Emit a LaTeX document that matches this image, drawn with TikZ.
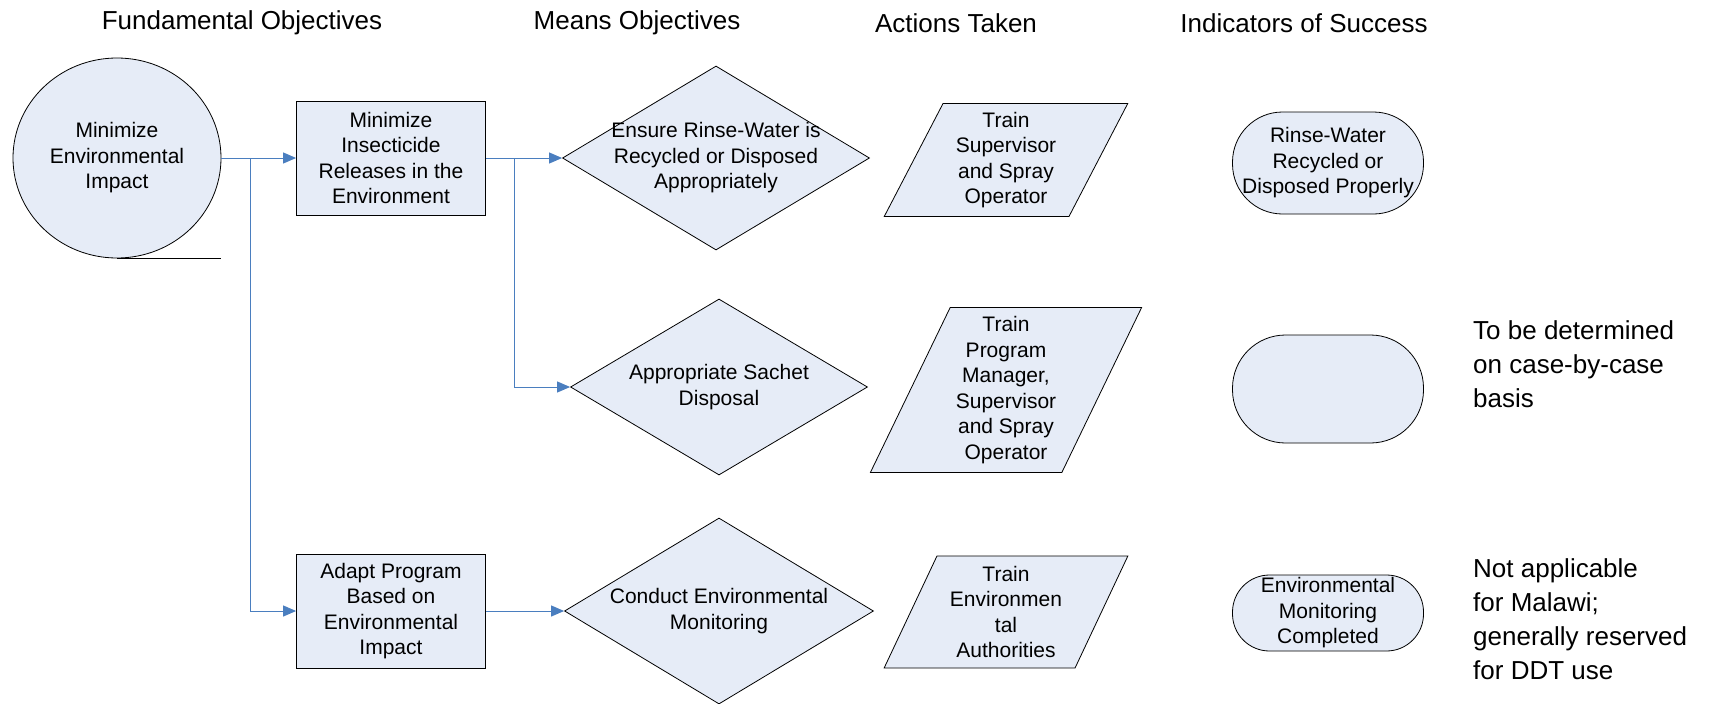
\documentclass[tikz,border=0pt]{standalone}
\usepackage{fontspec}
\setmainfont{Liberation Sans}
\usepackage{tikz}
\usetikzlibrary{arrows.meta}
\usetikzlibrary{shapes.geometric}
\usetikzlibrary{positioning}

\definecolor{shapefill}{RGB}{230,236,247}
\definecolor{linkblue}{RGB}{74,126,191}

\begin{document}
\begin{tikzpicture}[x=1pt,y=-1pt,
    txt/.style={font=\fontsize{21}{25.5}\selectfont, align=center, inner sep=0pt},
    head/.style={font=\fontsize{26}{31}\selectfont, inner sep=0pt},
    note/.style={font=\fontsize{26}{34}\selectfont, align=left, inner sep=0pt, anchor=north west},
    shp/.style={txt, draw=black, line width=0.8pt, fill=shapefill},
    fobj/.style={shp, ellipse, minimum width=208pt, minimum height=200pt},
    objbox/.style={shp, rectangle, minimum width=189pt, minimum height=114pt},
    decision/.style={shp, diamond, aspect=1.67, inner sep=-6pt},
    action/.style={shp, trapezium, trapezium stretches=true, minimum width=244pt},
    term/.style={shp, rectangle, minimum width=191pt},
    link/.style={draw=linkblue, line width=1pt, -{Triangle[length=13pt,width=11pt]}}
]
    \useasboundingbox (0,0) rectangle (1711,704);

    % column titles
    \node[head] (h1) at (242,23) {Fundamental Objectives};
    \node[head] (h2) at (637,23) {Means Objectives};
    \node[head] (h3) at (956,23) {Actions Taken};
    \node[head] (h4) at (1304,23) {Indicators of Success};

    \node[fobj] (fo) at (117,158) {Minimize\\Environmental\\Impact};
    \draw[line width=0.8pt] (fo.south) -- (fo.south -| fo.east);

    \node[objbox] (mo1) at (391,158) {Minimize\\Insecticide\\Releases in the\\Environment};
    \node[objbox] (mo2) at (391,611) {Adapt Program\\Based on\\Environmental\\Impact};

    \node[decision, minimum width=307pt, minimum height=184pt] (d1) at (716,158) {Ensure Rinse-Water is\\Recycled or Disposed\\Appropriately};
    \node[decision, minimum width=297pt, minimum height=176pt] (d2) at (719,387) {Appropriate Sachet\\Disposal};
    \node[decision, minimum width=309pt, minimum height=186pt] (d3) at (719,611) {Conduct Environmental\\Monitoring};

    \node[action, minimum height=113pt, trapezium left angle=64, trapezium right angle=116] (a1) at (1006,160) {Train\\Supervisor\\and Spray\\Operator};
    \node[action, minimum width=272pt, minimum height=165pt, trapezium left angle=64, trapezium right angle=116] (a2) at (1006,390) {Train\\Program\\Manager,\\Supervisor\\and Spray\\Operator};
    \node[action, minimum height=112pt, trapezium left angle=65, trapezium right angle=115] (a3) at (1006,612) {Train\\Environmen\\tal\\Authorities};

    \node[term, minimum height=102pt, rounded corners=50pt] (i1) at (1328,163) {Rinse-Water\\Recycled or\\Disposed Properly};
    \node[term, minimum height=108pt, rounded corners=53pt] (i2) at (1328,389) {};
    \node[term, minimum height=76pt, rounded corners=37pt] (i3) at (1328,613) {Environmental\\Monitoring\\Completed};

    \node[note] (n1) at (1473,320) {To be determined\\on case-by-case\\basis};
    \node[note] (n2) at (1473,558) {Not applicable\\for Malawi;\\generally reserved\\for DDT use};

    % connectors
    \coordinate (j1) at (250,158);
    \coordinate (j2) at (514,158);
    \draw[link] (fo.east) -- (mo1.west);
    \draw[link] (j1) |- (mo2.west);
    \draw[link] (mo1.east) -- (d1.west);
    \draw[link] (j2) |- (d2.west);
    \draw[link] (mo2.east) -- (d3.west);
\end{tikzpicture}
\end{document}
